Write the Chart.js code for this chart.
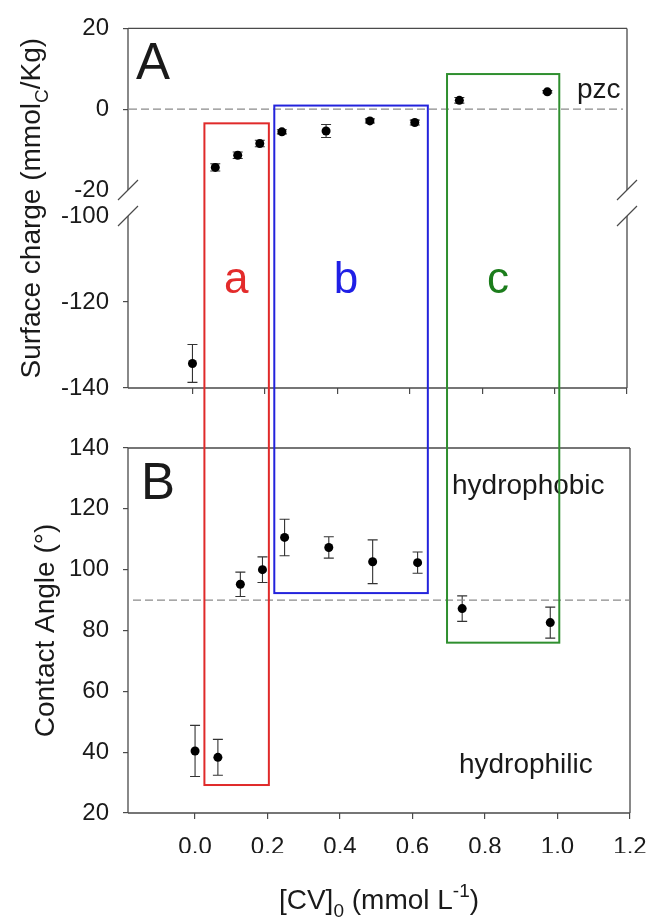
<!DOCTYPE html>
<html>
<head>
<meta charset="utf-8">
<script src="https://cdn.jsdelivr.net/npm/chart.js@4.4.1/dist/chart.umd.min.js"></script>
<style>
  body { margin: 0; background: #fff; }
  #wrap { position: relative; width: 651px; height: 918px; }
  #wrap canvas { position: absolute; left: 0; top: 0; }
</style>
</head>
<body>
<div id="wrap">
  <canvas id="chartATop" width="651" height="918"></canvas>
  <canvas id="chartABot" width="651" height="918"></canvas>
  <canvas id="chartB" width="651" height="918"></canvas>
</div>
<script>
// data
const cvConc = [0, 0.063, 0.125, 0.186, 0.247, 0.369, 0.49, 0.614, 0.737, 0.98];
const surfaceCharge = [-134.3, -14.4, -11.4, -8.5, -5.6, -5.4, -2.9, -3.3, 2.2, 4.3];
const surfaceChargeErr = [4.4, 0.9, 0.8, 0.8, 0.5, 1.6, 0.5, 0.6, 0.7, 0.3];
const contactAngle = [40.4, 38.3, 95.2, 100.0, 110.6, 107.3, 102.6, 102.3, 87.2, 82.6];
const contactAngleErr = [8.4, 5.9, 4.0, 4.2, 6.0, 3.5, 7.2, 3.5, 4.2, 5.1];

const xTicks = [0, 0.2, 0.4, 0.6, 0.8, 1.0, 1.2];
const chargeTicksTop = [20, 0, -20];
const chargeTicksBot = [-100, -120, -140];
const angleTicks = [20, 40, 60, 80, 100, 120, 140];

// boxed regions a, b, c (x in mmol/L, top in surface charge, bottom in contact angle)
const regionNames = ['a', 'b', 'c'];
const regionFrom = [0.033, 0.226, 0.703];
const regionTo = [0.211, 0.650, 1.013];
const regionTop = [-3.5, 0.9, 8.7];
const regionBottom = [29.2, 92.3, 76.0];
const regionLabelX = [0.121, 0.424, 0.844];
const regionLineColors = ['#e02a2a', '#2323dc', '#2f8f2f'];
const regionTextColors = ['#e32b2b', '#1f1fe6', '#1c7d1c'];

const FONT = '"Liberation Sans", Arial, Helvetica, sans-serif';
const INK = '#1a1a1a';
const AXIS = '#4a4a4a';

function textRuns(ctx, runs, cx, cy, size, rotate) {
  ctx.save();
  ctx.translate(cx, cy);
  if (rotate) ctx.rotate(-Math.PI / 2);
  ctx.fillStyle = INK;
  ctx.textBaseline = 'alphabetic';
  let total = 0;
  const sizes = runs.map(r => (r.sub || r.sup) ? Math.round(size * 0.68) : size);
  const widths = runs.map((r, i) => {
    ctx.font = sizes[i] + 'px ' + FONT;
    const w = ctx.measureText(r.t).width;
    total += w;
    return w;
  });
  let x = -total / 2;
  const base = size * 0.36;
  runs.forEach((r, i) => {
    ctx.font = sizes[i] + 'px ' + FONT;
    const dy = r.sub ? size * 0.3 : (r.sup ? -size * 0.42 : 0);
    ctx.fillText(r.t, x, base + dy);
    x += widths[i];
  });
  ctx.restore();
}

function text(ctx, s, x, y, size, color, align) {
  ctx.save();
  ctx.font = size + 'px ' + FONT;
  ctx.fillStyle = color || INK;
  ctx.textAlign = align || 'left';
  ctx.textBaseline = 'alphabetic';
  ctx.fillText(s, x, y);
  ctx.restore();
}

function frame(chart, sides) {
  const a = chart.chartArea, c = chart.ctx;
  c.save();
  c.strokeStyle = AXIS;
  c.lineWidth = 1.3;
  c.beginPath();
  if (sides.includes('l')) { c.moveTo(a.left, a.top); c.lineTo(a.left, a.bottom); }
  if (sides.includes('r')) { c.moveTo(a.right, a.top); c.lineTo(a.right, a.bottom); }
  if (sides.includes('t')) { c.moveTo(a.left, a.top); c.lineTo(a.right, a.top); }
  if (sides.includes('b')) { c.moveTo(a.left, a.bottom); c.lineTo(a.right, a.bottom); }
  c.stroke();
  c.restore();
}

function dashed(chart, value, x0, x1) {
  const c = chart.ctx, a = chart.chartArea;
  const y = chart.scales.y.getPixelForValue(value);
  c.save();
  c.strokeStyle = '#8a8a8a';
  c.lineWidth = 1.3;
  c.setLineDash([8, 4]);
  c.beginPath();
  c.moveTo(a.left + x0, y);
  c.lineTo(a.right - x1, y);
  c.stroke();
  c.restore();
}

const errorBars = {
  id: 'errorBars',
  beforeDatasetsDraw(chart) {
    const { ctx, chartArea: a } = chart;
    const x = chart.scales.x, y = chart.scales.y;
    ctx.save();
    ctx.beginPath();
    ctx.rect(a.left, a.top - 6, a.right - a.left, a.bottom - a.top + 12);
    ctx.clip();
    ctx.strokeStyle = '#333';
    ctx.lineWidth = 1.1;
    chart.data.datasets.forEach(ds => {
      if (!ds.errors) return;
      ds.data.forEach((p, i) => {
        const px = x.getPixelForValue(p.x);
        const y1 = y.getPixelForValue(p.y + ds.errors[i]);
        const y2 = y.getPixelForValue(p.y - ds.errors[i]);
        ctx.beginPath();
        ctx.moveTo(px, y1); ctx.lineTo(px, y2);
        ctx.moveTo(px - 5, y1); ctx.lineTo(px + 5, y1);
        ctx.moveTo(px - 5, y2); ctx.lineTo(px + 5, y2);
        ctx.stroke();
      });
    });
    ctx.restore();
  }
};
Chart.register(errorBars);

function dataset(values, errors) {
  return {
    data: cvConc.map((x, i) => ({ x: x, y: values[i] })),
    errors: errors,
    pointRadius: 4.5,
    pointHoverRadius: 4.5,
    backgroundColor: '#000',
    borderColor: '#000',
    borderWidth: 0
  };
}

function xScale(mode, min) {
  return {
    type: 'linear', min: min, max: 1.2,
    display: mode !== 'hidden',
    afterBuildTicks: s => { s.ticks = xTicks.map(v => ({ value: v })); },
    afterFit: s => {
      s.height = mode === 'labels' ? 40 : 6;
      s.paddingLeft = 0;
      s.paddingRight = 0;
    },
    grid: { drawOnChartArea: false, tickLength: 6, color: AXIS, lineWidth: 1.2 },
    border: { display: false },
    ticks: {
      padding: 14,
      color: mode === 'labels' ? INK : 'rgba(0,0,0,0)',
      font: { family: FONT, size: 24 },
      callback: v => v.toFixed(1)
    }
  };
}

function yScale(min, max, ticks, hideTick) {
  return {
    type: 'linear', min: min, max: max,
    afterBuildTicks: s => { s.ticks = ticks.map(v => ({ value: v })); },
    afterFit: s => { s.width = 128; },
    grid: {
      drawOnChartArea: false, tickLength: 5, lineWidth: 1.2,
      color: c => (c.tick && c.tick.value === hideTick) ? 'rgba(0,0,0,0)' : AXIS
    },
    border: { display: false },
    ticks: { padding: 14, color: INK, font: { family: FONT, size: 24 }, callback: v => String(v) }
  };
}

function baseOptions(padding, scales) {
  return {
    responsive: false,
    animation: false,
    events: [],
    layout: { padding: padding },
    plugins: { legend: { display: false }, tooltip: { enabled: false } },
    scales: scales
  };
}

// panel A, upper part of the broken axis
const chartATop = new Chart(document.getElementById('chartATop'), {
  type: 'scatter',
  data: { datasets: [dataset(surfaceCharge, surfaceChargeErr)] },
  options: baseOptions({ top: 24, bottom: 722, left: 0, right: 24 }, {
    x: xScale('hidden', -0.178),
    y: yScale(-20, 20, chargeTicksTop, -20)
  }),
  plugins: [{
    id: 'decoATop',
    beforeDatasetsDraw(chart) {
      frame(chart, 'ltr');
      dashed(chart, 0, 1, 4);
    },
    afterDraw(chart) {
      const a = chart.chartArea, x = chart.scales.x, y = chart.scales.y;
      text(chart.ctx, 'A', a.left + 8, a.top + 51, 51);
      text(chart.ctx, 'pzc', x.getPixelForValue(1.062), y.getPixelForValue(2.8), 28);
    }
  }]
});

// panel A, lower part of the broken axis
const chartABot = new Chart(document.getElementById('chartABot'), {
  type: 'scatter',
  data: { datasets: [dataset(surfaceCharge, surfaceChargeErr)] },
  options: baseOptions({ top: 216, bottom: 524, left: 0, right: 24 }, {
    x: xScale('ticks', -0.178),
    y: yScale(-140, -100, chargeTicksBot, -100)
  }),
  plugins: [{
    id: 'decoABot',
    beforeDatasetsDraw(chart) {
      frame(chart, 'lrb');
    },
    afterDraw(chart) {
      const c = chart.ctx, a = chart.chartArea, t = chartATop.chartArea;
      c.save();
      c.strokeStyle = AXIS;
      c.lineWidth = 1.2;
      c.beginPath();
      [a.left, a.right].forEach(px => {
        [t.bottom, a.top].forEach(py => {
          c.moveTo(px - 10, py + 10);
          c.lineTo(px + 10, py - 10);
        });
      });
      c.stroke();
      c.restore();
      textRuns(c, [{ t: 'Surface charge (mmol' }, { t: 'C', sub: true }, { t: '/Kg)' }],
        a.left - 98, (t.top + a.bottom) / 2, 28, true);
    }
  }]
});

// panel B, contact angle
const chartB = new Chart(document.getElementById('chartB'), {
  type: 'scatter',
  data: { datasets: [dataset(contactAngle, contactAngleErr)] },
  options: baseOptions({ top: 448, bottom: 65, left: 0, right: 21 }, {
    x: xScale('labels', -0.185),
    y: yScale(20, 140, angleTicks, null)
  }),
  plugins: [{
    id: 'decoB',
    beforeDatasetsDraw(chart) {
      frame(chart, 'ltrb');
      dashed(chart, 90, 5, 0);
    },
    afterDraw(chart) {
      const c = chart.ctx, a = chart.chartArea, x = chart.scales.x, y = chart.scales.y;
      text(c, 'B', a.left + 13, a.top + 51, 51);
      text(c, 'hydrophobic', x.getPixelForValue(0.709), y.getPixelForValue(124.9), 28);
      text(c, 'hydrophilic', x.getPixelForValue(0.728), y.getPixelForValue(33.2), 28);
      textRuns(c, [{ t: 'Contact Angle (°)' }], a.left - 84, (a.top + a.bottom) / 2, 28, true);
      textRuns(c, [{ t: '[CV]' }, { t: '0', sub: true }, { t: ' (mmol L' }, { t: '-1', sup: true }, { t: ')' }],
        (a.left + a.right) / 2, 899, 28, false);

      // region boxes spanning both panels
      const xa = chartATop.scales.x, ya = chartATop.scales.y, yb = chartABot.scales.y;
      regionNames.forEach((name, i) => {
        const x0 = xa.getPixelForValue(regionFrom[i]);
        const x1 = xa.getPixelForValue(regionTo[i]);
        const y0 = ya.getPixelForValue(regionTop[i]);
        const y1 = y.getPixelForValue(regionBottom[i]);
        c.save();
        c.strokeStyle = regionLineColors[i];
        c.lineWidth = 2;
        c.strokeRect(x0, y0, x1 - x0, y1 - y0);
        c.restore();
        text(c, name, xa.getPixelForValue(regionLabelX[i]), yb.getPixelForValue(-118), 44, regionTextColors[i], 'center');
      });
    }
  }]
});
</script>
</body>
</html>
